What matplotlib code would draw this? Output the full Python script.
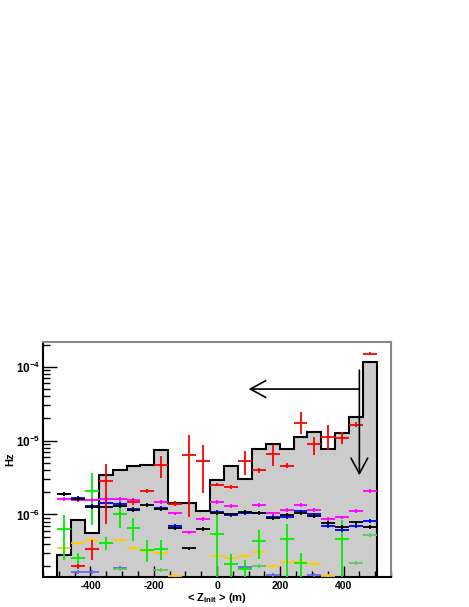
import numpy as np
import matplotlib
matplotlib.use("Agg")
import matplotlib.pyplot as plt
from matplotlib.ticker import FixedLocator, MultipleLocator, LogLocator, NullFormatter

nan = np.nan

# ---------------- data ----------------
x_lo, x_hi, n_bins = -506.0, 506.0, 23

hist_rate = [2.82e-7, 8.4e-7, 5.65e-7, 3.42e-6, 4.0e-6, 4.53e-6, 4.74e-6, 7.47e-6,
             1.43e-6, 1.43e-6, 1.12e-6, 2.97e-6, 4.53e-6, 2.99e-6, 7.62e-6, 8.91e-6,
             7.62e-6, 1.11e-5, 1.31e-5, 7.62e-6, 1.28e-5, 2.11e-5, 1.16e-4]

red_val = [nan, 2.0e-7, 3.4e-7, 2.8e-6, nan, 1.46e-6, 2.07e-6, 4.67e-6, 1.4e-6, 6.4e-6,
           5.35e-6, 2.54e-6, 2.35e-6, 5.3e-6, 4.0e-6, 6.6e-6, 4.57e-6, 1.76e-5, 8.9e-6,
           1.12e-5, 1.09e-5, 1.64e-5, 1.51e-4]
red_lo = [nan, 1.85e-7, 2.41e-7, 7.5e-7, nan, 1.35e-6, 1.95e-6, 3.08e-6, 1.32e-6, 9.3e-7,
          1.93e-6, 2.4e-6, 2.2e-6, 3.42e-6, 3.7e-6, 4.53e-6, 4.2e-6, 1.23e-5, 6.32e-6,
          7.39e-6, 8.9e-6, 1.52e-5, 1.45e-4]
red_hi = [nan, 2.15e-7, 4.5e-7, 4.77e-6, nan, 1.6e-6, 2.2e-6, 6.18e-6, 1.5e-6, 1.19e-5,
          8.7e-6, 2.7e-6, 2.5e-6, 7.2e-6, 4.3e-6, 8.7e-6, 4.9e-6, 2.41e-5, 1.12e-5,
          1.61e-5, 1.31e-5, 1.79e-5, 1.57e-4]

magenta_val = [1.63e-6, 1.58e-6, 1.56e-6, 1.63e-6, 1.63e-6, 1.57e-6, nan, 1.46e-6, 1.03e-6,
               5.7e-7, 8.6e-7, 1.46e-6, 1.31e-6, nan, 1.36e-6, 1.03e-6, 1.14e-6, 1.33e-6,
               1.14e-6, 8.7e-7, 9.1e-7, 1.12e-6, 2.1e-6]

black_val = [1.92e-6, 1.63e-6, 1.27e-6, 1.27e-6, 1.3e-6, 1.14e-6, 1.35e-6, 1.2e-6, 6.6e-7,
             3.46e-7, 6.28e-7, 1.05e-6, 1.0e-6, 1.08e-6, 1.06e-6, 8.85e-7, 9.8e-7, 1.05e-6,
             9.6e-7, 7.57e-7, 6.8e-7, 7.8e-7, 6.7e-7]

blue_val = [1.92e-6, 1.68e-6, 1.32e-6, 1.44e-6, 1.4e-6, 1.18e-6, nan, 1.23e-6, 7.0e-7,
            nan, nan, 1.08e-6, 9.8e-7, 1.04e-6, 1.06e-6, 9.2e-7, 9.2e-7, 1.1e-6, 1.0e-6,
            7.0e-7, 6.1e-7, 7.0e-7, 8.2e-7]

green_val = [6.28e-7, 2.54e-7, 2.09e-6, 4.1e-7, 1.01e-6, 6.48e-7, 3.3e-7, 3.4e-7, nan,
             nan, nan, 5.5e-7, 2.14e-7, 1.8e-7, 4.3e-7, nan, 4.6e-7, 2.2e-7, nan,
             nan, 4.6e-7, nan, nan]
green_lo = [2.41e-7, 1.9e-7, 7.2e-7, 3.3e-7, 6.6e-7, 4.4e-7, 2.26e-7, 2.4e-7, nan,
            nan, nan, 1e-8, 1e-8, 1e-8, 2.5e-7, nan, 1e-8, 1e-8, nan,
            nan, 1e-8, nan, nan]
green_hi = [9.7e-7, 3.0e-7, 3.6e-6, 5.0e-7, 1.5e-6, 8.9e-7, 4.5e-7, 4.5e-7, nan,
            nan, nan, 1.1e-6, 2.9e-7, 2.4e-7, 6.1e-7, nan, 7.5e-7, 3.0e-7, nan,
            nan, 8.3e-7, nan, nan]

orange_val = [3.46e-7, 4.05e-7, 4.5e-7, 4.05e-7, 4.5e-7, 3.55e-7, 3.2e-7, 3.0e-7, 1.45e-7,
              nan, nan, 2.71e-7, 2.54e-7, 2.75e-7, 3.1e-7, 2.0e-7, 2.3e-7, 2.3e-7, 2.14e-7,
              1.45e-7, nan, nan, nan]

lightgreen_val = [nan, nan, nan, nan, 1.8e-7, nan, nan, 1.77e-7, nan, nan, nan, nan, nan,
                  nan, 2.0e-7, nan, nan, nan, nan, nan, nan, 2.2e-7, 5.3e-7]
lightblue_val = [nan, 1.66e-7, 1.66e-7, nan, 1.9e-7, nan, nan, nan, nan, nan, nan, nan, nan,
                 1.95e-7, nan, 1.5e-7, nan, nan, 1.5e-7, nan, nan, nan, nan]

cut_z = 450.0
arrow_h_y, arrow_h_end = 5.0e-5, 100.0
arrow_v_top, arrow_v_end = 9.0e-5, 3.4e-6

# ---------------- style ----------------
plt.rcParams['font.family'] = ['Liberation Sans', 'DejaVu Sans']
plt.rcParams['font.weight'] = 'bold'
plt.rcParams['mathtext.fontset'] = 'custom'
plt.rcParams['mathtext.rm'] = 'Liberation Sans:bold'
plt.rcParams['mathtext.it'] = 'Liberation Sans:bold'
plt.rcParams['mathtext.bf'] = 'Liberation Sans:bold'
plt.rcParams['mathtext.default'] = 'rm'
plt.rcParams['axes.unicode_minus'] = False

edges = np.linspace(x_lo, x_hi, n_bins + 1)
centers = 0.5 * (edges[:-1] + edges[1:])
half = 0.5 * (edges[1] - edges[0])

fig = plt.figure(figsize=(4.69, 6.07), dpi=100)
ax = fig.add_axes([43 / 469, 30 / 607, 348 / 469, 235 / 607])
ax.set_yscale('log')
ax.set_xlim(-550, 550)
ax.set_ylim(1.42e-7, 2.17e-4)

ax.stairs(hist_rate, edges, baseline=1e-9, fill=True, facecolor='#cccccc',
          edgecolor='none', zorder=1)
ax.stairs(hist_rate, edges, baseline=1e-9, fill=False, color='black', lw=1.5, zorder=2)


def draw_series(vals, color, lo=None, hi=None, rel=0.06, z=3):
    v = np.array(vals, float)
    if lo is None:
        lo_a = v * (1 - rel)
        hi_a = v * (1 + rel)
    else:
        lo_a = np.array(lo, float)
        hi_a = np.array(hi, float)
    m = ~np.isnan(v)
    ax.errorbar(centers[m], v[m], xerr=half, yerr=[v[m] - lo_a[m], hi_a[m] - v[m]],
                fmt='none', ecolor=color, elinewidth=1.3, capsize=0, zorder=z)


draw_series(lightblue_val, '#6a6ae8', z=3)
draw_series(lightgreen_val, '#5cc85c', z=3)
draw_series(orange_val, '#ffcc00', z=4)
draw_series(green_val, '#00ee00', green_lo, green_hi, z=4)
draw_series(blue_val, '#0000ff', z=5)
draw_series(black_val, '#000000', z=6)
draw_series(magenta_val, '#ff00ff', z=5)
draw_series(red_val, '#ff0000', red_lo, red_hi, z=7)

arrow_style = dict(arrowstyle='->,head_length=1.1,head_width=0.6', color='black',
                   lw=1.2, mutation_scale=10, shrinkA=0, shrinkB=0)
ax.annotate('', xy=(arrow_h_end, arrow_h_y), xytext=(cut_z, arrow_h_y),
            arrowprops=arrow_style, zorder=8)
ax.annotate('', xy=(cut_z, arrow_v_end), xytext=(cut_z, arrow_v_top),
            arrowprops=arrow_style, zorder=8)

# axes / ticks
ax.xaxis.set_major_locator(FixedLocator([-400, -200, 0, 200, 400]))
ax.xaxis.set_minor_locator(MultipleLocator(50))
ax.set_yticks([1e-6, 1e-5, 1e-4])
ax.set_yticklabels([r'$10^{-6}$', r'$10^{-5}$', r'$10^{-4}$'])
ax.yaxis.set_minor_locator(LogLocator(base=10, subs=np.arange(2, 10), numticks=20))
ax.yaxis.set_minor_formatter(NullFormatter())
ax.tick_params(which='both', direction='in', top=False, right=False)
ax.tick_params(axis='x', which='major', length=8, width=1, labelsize=7.5, pad=3)
ax.tick_params(axis='x', which='minor', length=4, width=1)
ax.tick_params(axis='y', which='major', length=10, width=1, labelsize=8.5, pad=2)
ax.tick_params(axis='y', which='minor', length=5, width=1)

for s in ('left', 'bottom'):
    ax.spines[s].set_linewidth(1.5)
    ax.spines[s].set_color('black')
for s in ('top', 'right'):
    ax.spines[s].set_linewidth(1.5)
    ax.spines[s].set_color('#888888')

ax.set_ylabel('Hz', fontsize=8, fontweight='bold')
ax.yaxis.set_label_coords(-0.080, 0.5)
ax.set_xlabel(r'< Z$_{init}$ > (m)', fontsize=8, fontweight='bold')
ax.xaxis.set_label_coords(0.5, -0.058)

fig.savefig('out.png', dpi=100)
